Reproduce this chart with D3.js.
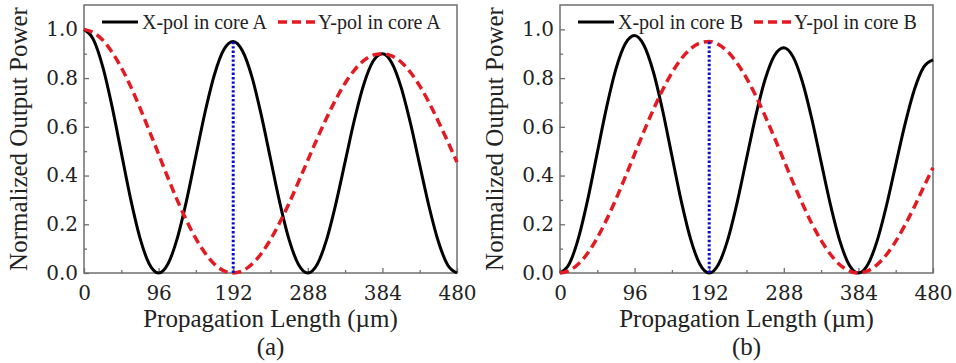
<!DOCTYPE html>
<html>
<head>
<meta charset="utf-8">
<title>Propagation</title>
<script src="https://d3js.org/d3.v7.min.js"></script>
<style>
  body { margin: 0; background: #fff; }
</style>
</head>
<body>
<script>
// propagation length samples (um)
var lengths = [0, 12, 24, 36, 48, 60, 72, 84, 96, 108, 120, 132, 144, 156, 168, 180, 192,
  204, 216, 228, 240, 252, 264, 276, 288, 300, 312, 324, 336, 348, 360, 372, 384,
  396, 408, 420, 432, 444, 456, 468, 480];

// (a) core A
var xPolA = [1.000, 0.959, 0.848, 0.685, 0.494, 0.304, 0.144, 0.037, 0.000, 0.037, 0.142, 0.298, 0.481, 0.663, 0.816, 0.917, 0.950,
  0.911, 0.806, 0.650, 0.469, 0.288, 0.136, 0.035, 0.000, 0.035, 0.135, 0.283, 0.456, 0.629, 0.774, 0.869, 0.900,
  0.863, 0.763, 0.616, 0.444, 0.273, 0.129, 0.033, 0.000];
var yPolA = [1.000, 0.987, 0.956, 0.907, 0.843, 0.766, 0.678, 0.584, 0.488, 0.391, 0.299, 0.215, 0.141, 0.081, 0.036, 0.009, 0.000,
  0.009, 0.036, 0.079, 0.137, 0.208, 0.287, 0.374, 0.463, 0.551, 0.635, 0.712, 0.779, 0.833, 0.872, 0.894, 0.900,
  0.891, 0.866, 0.824, 0.768, 0.700, 0.622, 0.540, 0.455];

// (b) core B
var xPolB = [0.000, 0.038, 0.146, 0.306, 0.494, 0.681, 0.838, 0.941, 0.975, 0.935, 0.827, 0.668, 0.481, 0.296, 0.140, 0.036, 0.000,
  0.036, 0.138, 0.290, 0.469, 0.646, 0.795, 0.893, 0.925, 0.887, 0.784, 0.633, 0.456, 0.281, 0.133, 0.034, 0.000,
  0.034, 0.131, 0.275, 0.444, 0.611, 0.752, 0.845, 0.875];
var yPolB = [0.000, 0.010, 0.038, 0.083, 0.145, 0.219, 0.303, 0.394, 0.488, 0.581, 0.670, 0.751, 0.822, 0.879, 0.920, 0.944, 0.950,
  0.938, 0.908, 0.861, 0.800, 0.727, 0.644, 0.555, 0.463, 0.371, 0.284, 0.203, 0.134, 0.077, 0.034, 0.009, 0.000,
  0.009, 0.034, 0.075, 0.130, 0.197, 0.272, 0.353, 0.432];

// blue dotted marker (length, peak)
var markerA = [192, 0.95];
var markerB = [192, 0.95];

var xTicks = [0, 96, 192, 288, 384, 480];
var xMinor = [48, 144, 240, 336, 432];
var yTicks = [0, 0.2, 0.4, 0.6, 0.8, 1.0];
var yMinor = [0.1, 0.3, 0.5, 0.7, 0.9];

var panels = [
  {left: 84, label: "(a)", core: "A", x: xPolA, y: yPolA, marker: markerA},
  {left: 560, label: "(b)", core: "B", x: xPolB, y: yPolB, marker: markerB}
];

var width = 956, height = 363;
var plotW = 373, plotH = 268, plotTop = 5;
var serif = "'Liberation Serif', 'Times New Roman', serif";
// digits fall back to a sans face in Liberation Serif here, so tick numbers use DejaVu Serif
var digitSerif = "'DejaVu Serif', serif";

var svg = d3.select("body").append("svg")
  .attr("width", width)
  .attr("height", height);

var xScale = d3.scaleLinear().domain([0, 480]).range([0, plotW]);
var yScale = d3.scaleLinear().domain([0, 1.1]).range([plotH, 0]);

panels.forEach(function(p) {
  var g = svg.append("g").attr("transform", "translate(" + p.left + "," + plotTop + ")");

  // frame
  g.append("rect")
    .attr("width", plotW).attr("height", plotH)
    .attr("fill", "none").attr("stroke", "#6f6f6f").attr("stroke-width", 1.5);

  // axes, ticks pointing inward
  g.append("g").attr("transform", "translate(0," + plotH + ")")
    .call(d3.axisBottom(xScale).tickValues(xTicks).tickFormat(d3.format("d"))
      .tickSizeInner(-5).tickSizeOuter(0).tickPadding(13));
  g.append("g").attr("transform", "translate(0," + plotH + ")")
    .call(d3.axisBottom(xScale).tickValues(xMinor).tickFormat("")
      .tickSizeInner(-3).tickSizeOuter(0));
  g.append("g")
    .call(d3.axisLeft(yScale).tickValues(yTicks).tickFormat(d3.format(".1f"))
      .tickSizeInner(-5).tickSizeOuter(0).tickPadding(6));
  g.append("g")
    .call(d3.axisLeft(yScale).tickValues(yMinor).tickFormat("")
      .tickSizeInner(-3).tickSizeOuter(0));

  g.selectAll(".domain").remove();
  g.selectAll(".tick line").attr("stroke", "#6f6f6f").attr("stroke-width", 1.3);
  g.selectAll(".tick text").classed("num", true)
    .style("font-size", "20px");

  var lineX = d3.line()
    .x(function(d, i) { return xScale(lengths[i]); })
    .y(function(d) { return yScale(d); })
    .curve(d3.curveMonotoneX);

  g.append("path").datum(p.x)
    .attr("d", lineX)
    .attr("fill", "none").attr("stroke", "#000").attr("stroke-width", 3);

  g.append("path").datum(p.y)
    .attr("d", lineX)
    .attr("fill", "none").attr("stroke", "#e41a22").attr("stroke-width", 3.5)
    .attr("stroke-dasharray", "9,5");

  g.append("line")
    .attr("x1", xScale(p.marker[0])).attr("x2", xScale(p.marker[0]))
    .attr("y1", yScale(0)).attr("y2", yScale(p.marker[1]))
    .attr("stroke", "#0a0ad8").attr("stroke-width", 3)
    .attr("stroke-dasharray", "2.4,2");

  // legend
  var lg = g.append("g").attr("transform", "translate(0,17)");
  lg.append("line").attr("x1", 18).attr("x2", 54).attr("y1", 0).attr("y2", 0)
    .attr("stroke", "#000").attr("stroke-width", 3);
  lg.append("text").attr("x", 58).attr("y", 7).style("font-size", "20px")
    .text("X-pol in core " + p.core);
  lg.append("line").attr("x1", 194).attr("x2", 231).attr("y1", 0).attr("y2", 0)
    .attr("stroke", "#e41a22").attr("stroke-width", 3.5).attr("stroke-dasharray", "9,5");
  lg.append("text").attr("x", 234).attr("y", 7).style("font-size", "20px")
    .text("Y-pol in core " + p.core);

  // axis titles
  g.append("text")
    .attr("x", plotW / 2).attr("y", 322)
    .attr("text-anchor", "middle").style("font-size", "25px")
    .text("Propagation Length (\u00b5m)");
  g.append("text")
    .attr("transform", "translate(-57," + (plotH / 2) + ") rotate(-90)")
    .attr("text-anchor", "middle").style("font-size", "25px")
    .text("Normalized Output Power");
  g.append("text")
    .attr("x", plotW / 2).attr("y", 350)
    .attr("text-anchor", "middle").style("font-size", "25px")
    .text(p.label);
});

svg.selectAll("text")
  .style("font-family", serif)
  .style("fill", "#222");
svg.selectAll("text.num")
  .style("font-family", digitSerif);
</script>
</body>
</html>
